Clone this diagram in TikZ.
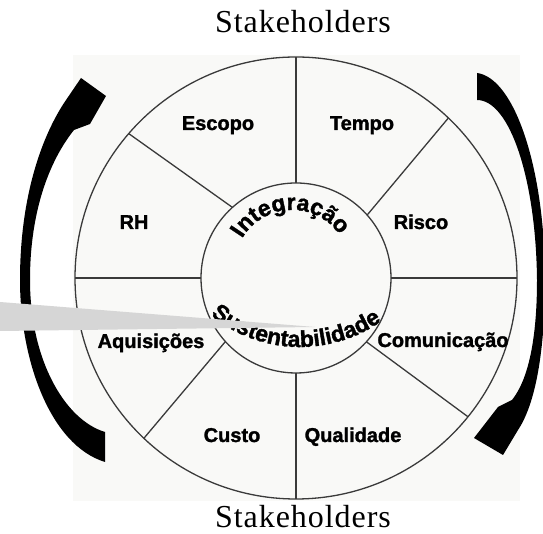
\documentclass[tikz,border=0pt]{standalone}
\usepackage{fontspec}
\setmainfont{Liberation Serif}
\newfontfamily\labelsf{Liberation Sans}[BoldFeatures={FakeBold=1.5}]
\newfontfamily\stakefont{Liberation Serif}[LetterSpace=3]
\usepackage{tikz}
\usetikzlibrary{calc, decorations.text}

\definecolor{paper}{HTML}{F9F9F7}
\definecolor{rim}{HTML}{3A3A3A}
\definecolor{beam}{HTML}{D6D6D6}

\begin{document}
\begin{tikzpicture}[x=1pt, y=1pt,
    rimline/.style={draw=rim, line width=1.3pt},
    area/.style={font=\labelsf\bfseries\fontsize{20}{24}\selectfont, anchor=base, inner sep=0pt},
    stake/.style={font=\stakefont\fontsize{32}{36}\selectfont, anchor=base, inner sep=0pt},
    curvetext/.style={decorate, decoration={text along path, text align=center,
      text={|\labelsf\bfseries\fontsize{23}{26}\selectfont|#1}}}]

  \useasboundingbox (0,0) rectangle (543,534);
  \fill[white] (0,0) rectangle (543,534);

  % === Background sheet ===
  \fill[paper] (73,33) rectangle (520,479);
  \coordinate (C) at (296,256);

  % === Wheel ===
  \draw[rimline] (C) circle (221);
  \draw[rimline] (C) circle (95);
  % Spokes (inner angle, outer angle)
  \draw[rimline] ($(C)+(90:95)$) -- ($(C)+(90:221)$);
  \draw[rimline] ($(C)+(270:95)$) -- ($(C)+(270:221)$);
  \draw[rimline] ($(C)+(0:95)$) -- ($(C)+(0:221)$);
  \draw[rimline] ($(C)+(180:95)$) -- ($(C)+(180:221)$);
  \draw[rimline] ($(C)+(132:95)$) -- ($(C)+(139.2:221)$);
  \draw[rimline] ($(C)+(41.5:95)$) -- ($(C)+(46.4:221)$);
  \draw[rimline] ($(C)+(-42.2:95)$) -- ($(C)+(-38.9:221)$);
  \draw[rimline] ($(C)+(222:95)$) -- ($(C)+(226.5:221)$);

  % === Knowledge areas ===
  \node[area] (escopo) at (218,404) {Escopo};
  \node[area] (tempo) at (362,404) {Tempo};
  \node[area] (rh) at (134,305) {RH};
  \node[area] (risco) at (421,305) {Risco};
  \node[area] (aquis) at (151,186) {Aquisições};
  \node[area] (comun) at (443,187) {Comunicação};
  \node[area] (custo) at (232,92) {Custo};
  \node[area] (quali) at (353,92) {Qualidade};

  % === Core (curved text) ===
  \path[curvetext=Integração] (292,266) ++(165:58) arc[start angle=165, end angle=19, radius=58];
  \path[curvetext=Sustentabilidade] (300,328) ++(218:141) arc[start angle=218, end angle=318, radius=141];

  % === Stakeholders ===
  \node[stake] (stakeTop) at (303,501) {Stakeholders};
  \node[stake] (stakeBot) at (303,6) {Stakeholders};

  % === Cycle arrows ===
  % left: up
  \fill[black] (105,102) .. controls (65,114) and (30,174) .. (30,254)
    .. controls (30,324) and (50,374) .. (74,404)
    -- (90,410) -- (106,438) -- (81,456) -- (64,431)
    .. controls (40,394) and (20,334) .. (20,254)
    .. controls (20,174) and (50,89) .. (105,72) -- cycle;
  % right: down
  \fill[black] (477,434) .. controls (510,434) and (536,354) .. (537,254)
    .. controls (537,194) and (528,154) .. (512,134)
    -- (498,127) -- (474,96) -- (503,79) -- (518,104)
    .. controls (538,134) and (545,194) .. (545,254)
    .. controls (545,364) and (515,456) .. (477,461) -- cycle;

  % === Grey beam ===
  \fill[beam] (0,232) -- (315,207) -- (0,203) -- cycle;

\end{tikzpicture}
\end{document}
